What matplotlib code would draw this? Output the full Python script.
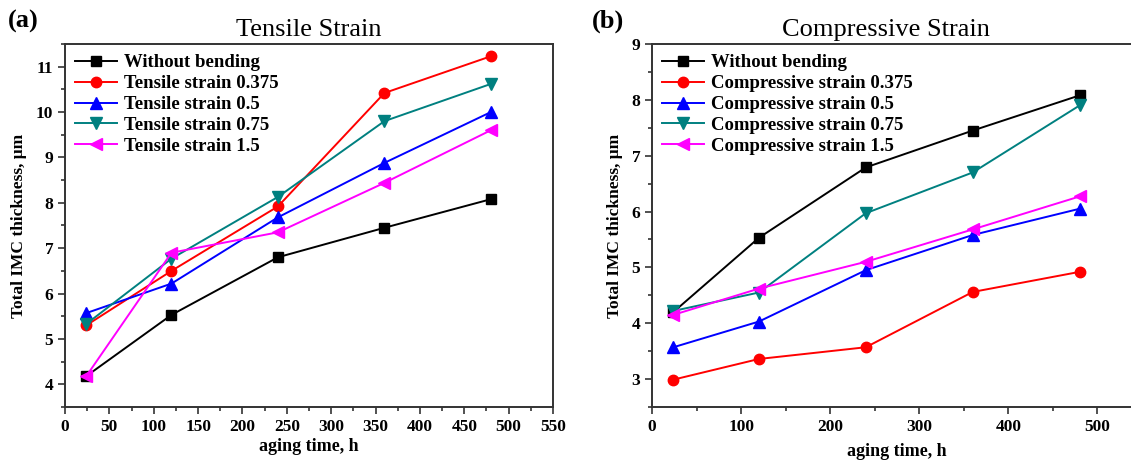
import matplotlib
matplotlib.use('Agg')
import matplotlib.pyplot as plt
from matplotlib.ticker import MultipleLocator

plt.rcParams['font.family'] = ['Liberation Serif', 'DejaVu Serif']

# aging time (h)
time_h = [24, 120, 240, 360, 480]

# (a) tensile strain
tens_labels = ['Without bending', 'Tensile strain 0.375', 'Tensile strain 0.5',
               'Tensile strain 0.75', 'Tensile strain 1.5']
tens_without = [4.18, 5.53, 6.80, 7.45, 8.08]
tens_0375 = [5.30, 6.50, 7.92, 10.42, 11.23]
tens_05 = [5.57, 6.22, 7.68, 8.88, 10.00]
tens_075 = [5.33, 6.77, 8.13, 9.80, 10.62]
tens_15 = [4.18, 6.90, 7.35, 8.44, 9.60]

# (b) compressive strain
comp_labels = ['Without bending', 'Compressive strain 0.375', 'Compressive strain 0.5',
               'Compressive strain 0.75', 'Compressive strain 1.5']
comp_without = [4.20, 5.53, 6.79, 7.45, 8.08]
comp_0375 = [2.99, 3.36, 3.57, 4.56, 4.92]
comp_05 = [3.57, 4.03, 4.95, 5.58, 6.05]
comp_075 = [4.22, 4.55, 5.97, 6.70, 7.90]
comp_15 = [4.15, 4.62, 5.10, 5.68, 6.27]

colors = ['black', '#ff0000', '#0000ff', '#008080', '#ff00ff']
markers = ['s', 'o', '^', 'v', '<']
msizes = [6.5, 7.5, 8, 8, 8]

W, H = 1131, 461
fig = plt.figure(figsize=(W / 100, H / 100), dpi=100)
ax1 = fig.add_axes([65 / W, 54 / H, 488 / W, 363 / H])
ax2 = fig.add_axes([652 / W, 54 / H, 490 / W, 363 / H])


def draw(ax, series, labels):
    for y, lab, c, m, ms in zip(series, labels, colors, markers, msizes):
        ax.plot(time_h, y, color=c, marker=m, markersize=ms, linewidth=1.4, label=lab)
    for s in ax.spines.values():
        s.set_linewidth(1.4)
        s.set_color('#333333')
    ax.tick_params(which='both', direction='out', width=1.2, colors='#333333',
                   labelcolor='black', labelsize=12.5)
    ax.tick_params(which='major', length=5)
    ax.tick_params(which='minor', length=3)
    ax.yaxis.set_major_locator(MultipleLocator(1))
    ax.yaxis.set_minor_locator(MultipleLocator(0.5))
    ax.set_ylabel('Total IMC thickness, μm', fontsize=12.5, fontweight='bold', labelpad=6)
    ax.legend(loc='upper left', frameon=False, handlelength=2.2,
              prop={'weight': 'bold', 'size': 13.5}, labelspacing=0.2,
              borderaxespad=0.15, handletextpad=0.4)


def bold_ticks(ax):
    for t in ax.get_xticklabels() + ax.get_yticklabels():
        t.set_fontweight('bold')


draw(ax1, [tens_without, tens_0375, tens_05, tens_075, tens_15], tens_labels)
ax1.set_xlim(0, 550)
ax1.set_ylim(3.5, 11.5)
ax1.xaxis.set_major_locator(MultipleLocator(50))
ax1.xaxis.set_minor_locator(MultipleLocator(25))
ax1.set_xlabel('aging time, h', fontsize=13, fontweight='bold', labelpad=2)
ax1.set_title('Tensile Strain', fontsize=19, pad=6)
bold_ticks(ax1)

draw(ax2, [comp_without, comp_0375, comp_05, comp_075, comp_15], comp_labels)
ax2.set_xlim(0, 550)
ax2.set_ylim(2.5, 9)
ax2.xaxis.set_major_locator(MultipleLocator(100))
ax2.xaxis.set_minor_locator(MultipleLocator(50))
ax2.set_xlabel('aging time, h', fontsize=13, fontweight='bold', labelpad=6)
ax2.set_title('Compressive Strain', fontsize=19, pad=6, x=0.478)
bold_ticks(ax2)

fig.text(8 / W, 1 - 21 / H, '(a)', fontsize=19, fontweight='bold', va='center')
fig.text(592 / W, 1 - 21 / H, '(b)', fontsize=19, fontweight='bold', va='center')

fig.savefig('out.png', dpi=100)
